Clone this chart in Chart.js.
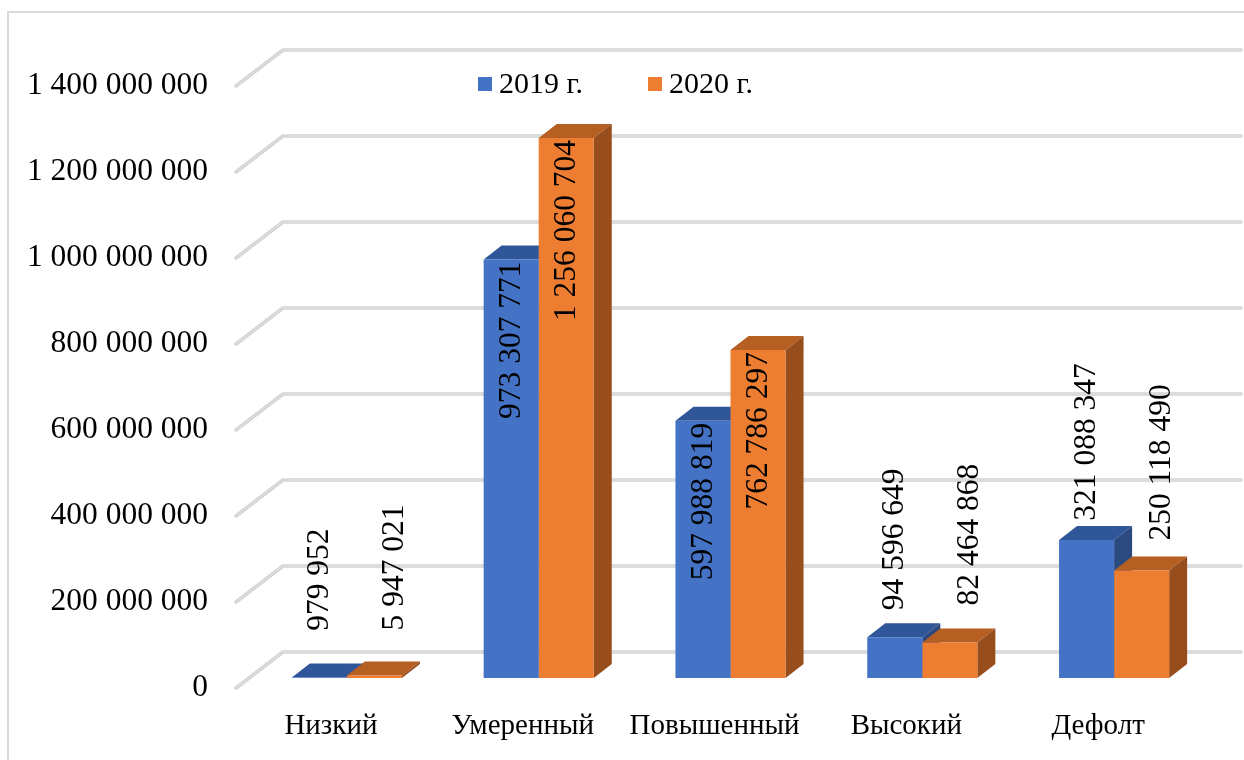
<!DOCTYPE html>
<html>
<head>
<meta charset="utf-8">
<script src="https://cdn.jsdelivr.net/npm/chart.js@4.4.1/dist/chart.umd.min.js"></script>
<style>
  html, body { margin: 0; padding: 0; background: #fff; }
  #wrap { width: 1244px; height: 760px; position: relative; }
</style>
</head>
<body>
<div id="wrap"><canvas id="myChart" width="1244" height="760"></canvas></div>
<script>
// chart data
const categories = ["Низкий", "Умеренный", "Повышенный", "Высокий", "Дефолт"];
const values2019 = [979952, 973307771, 597988819, 94596649, 321088347];
const values2020 = [5947021, 1256060704, 762786297, 82464868, 250118490];
const seriesNames = ["2019 г.", "2020 г."];
const yMax = 1400000000;
const yStep = 200000000;

const FONT = '"Liberation Serif", "Times New Roman", serif';
const NUM_SIZE = 31.5;
const DEPTH_X = 18, DEPTH_Y = -14;

// 1 400 000 000 style numbers
function fmt(v) {
  return String(Math.round(v)).replace(/\B(?=(\d{3})+(?!\d))/g, " ");
}

// Frame, floor/back grid with the slanted left edge, 3D faces, labels
const gridPlugin = {
  id: "grid3d",
  beforeDatasetsDraw(chart) {
    const ctx = chart.ctx;
    const y = chart.scales.y;
    ctx.save();
    // outer frame
    ctx.strokeStyle = "#d9d9d9";
    ctx.lineWidth = 2;
    ctx.beginPath();
    ctx.moveTo(8, 760);
    ctx.lineTo(8, 12);
    ctx.lineTo(1244, 12);
    ctx.stroke();

    y.ticks.forEach((t) => {
      const py = y.getPixelForValue(t.value);
      const pts = [[236, py + 10], [283, py - 26], [1241, py - 26]];
      ctx.lineCap = "round";
      ctx.lineJoin = "round";
      ctx.strokeStyle = "#d2d2d2";
      ctx.lineWidth = 3.5;
      ctx.beginPath();
      pts.forEach((p, i) => (i ? ctx.lineTo(p[0], p[1]) : ctx.moveTo(p[0], p[1])));
      ctx.stroke();
      ctx.strokeStyle = "#e6e6e6";
      ctx.lineWidth = 1;
      ctx.beginPath();
      pts.forEach((p, i) => (i ? ctx.lineTo(p[0], p[1]) : ctx.moveTo(p[0], p[1])));
      ctx.stroke();
    });

    // top and side faces of every bar (front faces are drawn by Chart.js)
    chart.data.datasets.forEach((ds, di) => {
      const meta = chart.getDatasetMeta(di);
      meta.data.forEach((bar) => {
        const l = bar.x - bar.width / 2, r = bar.x + bar.width / 2;
        const top = bar.y, bot = bar.base;
        ctx.fillStyle = ds.topColor;
        ctx.beginPath();
        ctx.moveTo(l, top);
        ctx.lineTo(r, top);
        ctx.lineTo(r + DEPTH_X, top + DEPTH_Y);
        ctx.lineTo(l + DEPTH_X, top + DEPTH_Y);
        ctx.closePath();
        ctx.fill();
        ctx.fillStyle = ds.sideColor;
        ctx.beginPath();
        ctx.moveTo(r, top);
        ctx.lineTo(r + DEPTH_X, top + DEPTH_Y);
        ctx.lineTo(r + DEPTH_X, bot + DEPTH_Y);
        ctx.lineTo(r, bot);
        ctx.closePath();
        ctx.fill();
      });
    });
    ctx.restore();
  },
  afterDatasetsDraw(chart) {
    const ctx = chart.ctx;
    ctx.save();
    ctx.font = NUM_SIZE + "px " + FONT;
    ctx.fillStyle = "#000";
    ctx.textBaseline = "middle";
    chart.data.datasets.forEach((ds, di) => {
      const meta = chart.getDatasetMeta(di);
      meta.data.forEach((bar, i) => {
        const txt = fmt(ds.data[i]);
        const w = ctx.measureText(txt).width;
        const h = bar.base - bar.y;
        ctx.save();
        if (h > w + 10) {
          // inside the bar, hanging from its top
          ctx.translate(bar.x + 1, bar.y + 2);
          ctx.rotate(-Math.PI / 2);
          ctx.textAlign = "right";
        } else {
          // above the bar
          ctx.translate(bar.x + ds.labelShift, bar.y - ds.labelLift);
          ctx.rotate(-Math.PI / 2);
          ctx.textAlign = "center";
        }
        ctx.fillText(txt, 0, 0);
        ctx.restore();
      });
    });

    // legend
    ctx.font = "30px " + FONT;
    const legendX = [478, 648];
    chart.data.datasets.forEach((ds, di) => {
      ctx.fillStyle = ds.backgroundColor;
      ctx.fillRect(legendX[di], 77, 14, 14);
      ctx.fillStyle = "#000";
      ctx.textAlign = "left";
      ctx.fillText(ds.label, legendX[di] + 21, 85);
    });
    ctx.restore();
  }
};

const ctx = document.getElementById("myChart").getContext("2d");
new Chart(ctx, {
  type: "bar",
  data: {
    labels: categories,
    datasets: [
      {
        label: seriesNames[0],
        data: values2019,
        backgroundColor: "#4472C4",
        topColor: "#30569A",
        sideColor: "#2B4A80",
        labelShift: 0,
        labelLift: 98,
        borderWidth: 0
      },
      {
        label: seriesNames[1],
        data: values2020,
        backgroundColor: "#ED7D31",
        topColor: "#B65F22",
        sideColor: "#974D1C",
        labelShift: 20,
        labelLift: 108,
        borderWidth: 0
      }
    ]
  },
  options: {
    responsive: false,
    animation: false,
    categoryPercentage: 0.574,
    barPercentage: 1.0,
    layout: { padding: { top: 76, right: 34, bottom: 0, left: 0 } },
    plugins: {
      legend: { display: false },
      tooltip: { enabled: false }
    },
    scales: {
      x: {
        grid: { display: false, drawTicks: false },
        border: { display: false },
        ticks: {
          color: "#000",
          font: { family: FONT, size: 29 },
          padding: 31,
          labelOffset: -16,
          maxRotation: 0,
          autoSkip: false
        },
        afterFit(scale) { scale.height = 82; }
      },
      y: {
        min: 0,
        max: yMax,
        grid: { display: false, drawTicks: false },
        border: { display: false },
        ticks: {
          stepSize: yStep,
          color: "#000",
          font: { family: FONT, size: NUM_SIZE },
          padding: 43,
          labelOffset: 10,
          callback: (v) => fmt(v)
        },
        afterFit(scale) { scale.width = 251; }
      }
    }
  },
  plugins: [gridPlugin]
});
</script>
</body>
</html>
